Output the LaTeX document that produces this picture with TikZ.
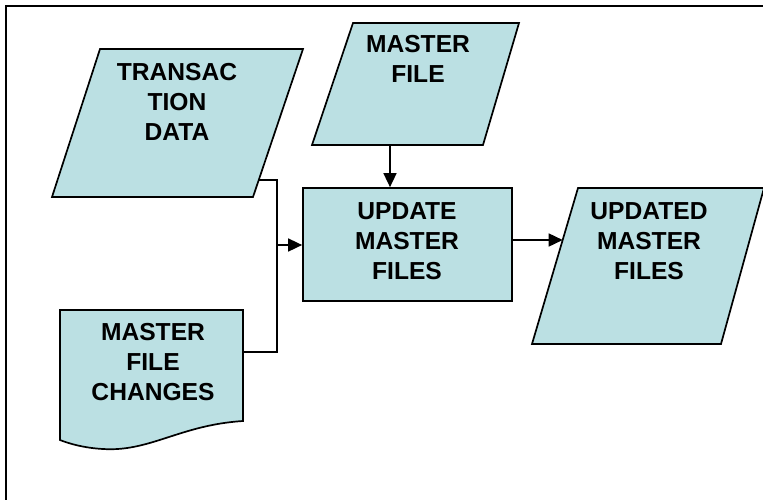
\documentclass[tikz,border=0pt]{standalone}
\usepackage{fontspec}
\setmainfont{Liberation Sans}
\usetikzlibrary{arrows.meta}
\definecolor{shapefill}{HTML}{BBE0E3}
\tikzset{
  flowbox/.style={draw=black, fill=shapefill, line width=1.7pt, line join=miter},
  boxtext/.style={inner sep=0pt, anchor=north, align=center,
    font=\fontsize{24.6}{30}\selectfont\bfseries},
  connector/.style={draw=black, line width=1.6pt},
  arrowline/.style={connector, -{Triangle[length=14pt,width=13pt]}},
  outerframe/.style={draw=black, line width=2pt}
}
\begin{document}
\begin{tikzpicture}[x=1pt, y=-1pt]
  \useasboundingbox (0,0) rectangle (763,499);
  % outer frame (runs past the right and bottom edges)
  \draw[outerframe] (6,520) -- (6,6) -- (780,6);

  % input: transaction data
  \path[flowbox] (100,49) -- (303,49) -- (253,197) -- (52,197) -- cycle;
  \coordinate (tdOut) at (258.7,180);
  \node[boxtext] (tdText) at (177,63) {TRANSAC\\TION\\DATA};

  % input: master file
  \path[flowbox] (353,23) -- (519,23) -- (483,145) -- (312,145) -- cycle;
  \coordinate (mfOut) at (390,145);
  \node[boxtext] (mfText) at (418,35) {MASTER\\FILE};

  % document: master file changes
  \path[flowbox] (60,310) -- (243,310) -- (243,421)
     .. controls (180,425) and (150,452) .. (103,449)
     .. controls (85,448) and (70,444) .. (60,440) -- cycle;
  \coordinate (mfcOut) at (243,352);
  \node[boxtext] (mfcText) at (153,323) {MASTER\\FILE\\CHANGES};

  % process: update master files
  \node[flowbox, minimum width=209pt, minimum height=113pt, inner sep=0pt]
     (proc) at (407.5,244.5) {};
  \node[boxtext] (procText) at (407,202) {UPDATE\\MASTER\\FILES};

  % output: updated master files
  \path[flowbox] (578,188) -- (764,188) -- (721,344) -- (532,344) -- cycle;
  \coordinate (umfIn) at (562.7,240);
  \node[boxtext] (umfText) at (649,202) {UPDATED\\MASTER\\FILES};

  % connectors
  \coordinate (join) at (277,245);
  \draw[connector] (tdOut) -| (join) |- (mfcOut);
  \draw[arrowline] (join) -- (proc.west |- join);
  \draw[arrowline] (mfOut) -- (proc.north -| mfOut);
  \draw[arrowline] (proc.east |- umfIn) -- (umfIn);
\end{tikzpicture}
\end{document}
